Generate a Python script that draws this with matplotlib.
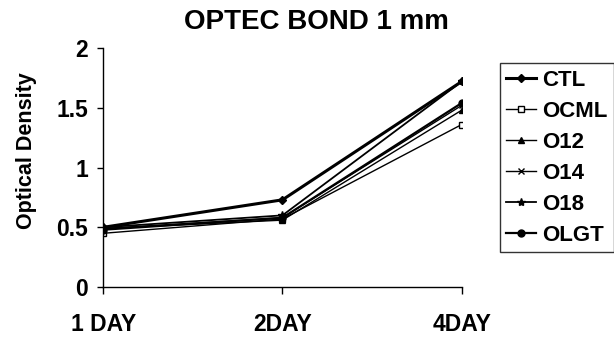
import matplotlib.pyplot as plt

plt.rcParams['font.family'] = ['Liberation Sans', 'DejaVu Sans']
plt.rcParams['font.weight'] = 'bold'

days = ['1 DAY', '2DAY', '4DAY']
series = ['CTL', 'OCML', 'O12', 'O14', 'O18', 'OLGT']
ctl = [0.50, 0.73, 1.72]
ocml = [0.45, 0.57, 1.36]
o12 = [0.49, 0.56, 1.48]
o14 = [0.49, 0.58, 1.52]
o18 = [0.50, 0.60, 1.72]
olgt = [0.48, 0.58, 1.54]
values = [ctl, ocml, o12, o14, o18, olgt]

markers = ['D', 's', '^', 'x', '*', 'o']
msizes = [4, 4, 5, 5, 6, 5]
widths = [2.2, 1.0, 1.0, 1.0, 1.3, 1.6]
faces = ['black', 'white', 'black', 'black', 'black', 'black']

fig = plt.figure(figsize=(6.14, 3.43), dpi=100)
ax = fig.add_axes([0.168, 0.163, 0.584, 0.697])

x = range(len(days))
for name, v, m, ms, lw, fc in zip(series, values, markers, msizes, widths, faces):
    ax.plot(x, v, color='black', marker=m, markersize=ms, linewidth=lw,
            markerfacecolor=fc, markeredgecolor='black', markeredgewidth=1, label=name)

ax.set_xlim(0, 2)
ax.set_ylim(0, 2)
ax.set_xticks(list(x))
ax.set_xticklabels(days)
ax.set_yticks([0, 0.5, 1, 1.5, 2])
ax.set_yticklabels(['0', '0.5', '1', '1.5', '2'])
ax.tick_params(labelsize=16.5, direction='out', width=1)
ax.tick_params(axis='x', length=5, pad=14)
ax.tick_params(axis='y', length=4, pad=7)
for s in ['top', 'right']:
    ax.spines[s].set_visible(False)
ax.spines['left'].set_linewidth(1)
ax.spines['bottom'].set_linewidth(1)

# titel over hele chart, niet alleen de as
fig.text(0.515, 0.936, 'OPTEC BOND 1 mm', fontsize=20, fontweight='bold',
         ha='center', va='center')
ax.set_ylabel('Optical Density', fontsize=15.5, fontweight='bold')
ax.yaxis.set_label_coords(-0.184, 0.57)

leg = fig.legend(loc='upper left', bbox_to_anchor=(0.814, 0.816), fontsize=16,
                 handlelength=1.35, handletextpad=0.25, labelspacing=0.45,
                 fancybox=False, edgecolor='black', borderpad=0.3, borderaxespad=0)
leg.get_frame().set_linewidth(1)
for t in leg.get_texts():
    t.set_fontweight('bold')

fig.savefig('out.png', dpi=100)
